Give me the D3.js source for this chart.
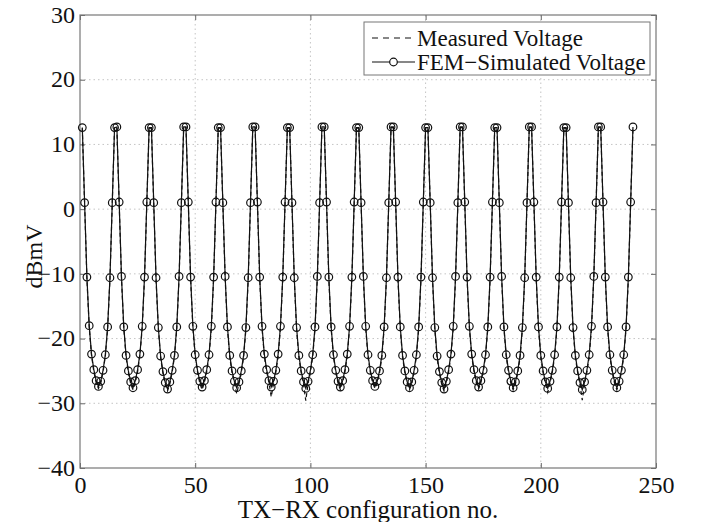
<!DOCTYPE html>
<html>
<head>
<meta charset="utf-8">
<script src="https://cdn.jsdelivr.net/npm/d3@7"></script>
<style>
  body { margin: 0; background: #fff; }
  svg text { font-family: "Liberation Serif", "DejaVu Serif", serif; fill: #111; }
</style>
</head>
<body>
<div id="chart"></div>
<script>
// x ticks / y ticks
var xTicks = [0, 50, 100, 150, 200, 250];
var yTicks = [-40, -30, -20, -10, 0, 10, 20, 30];

// 16 TX blocks of 15 RX each (configurations 1..240)
var simulatedBlocks = [
  [12.6, 1.0, -10.5, -18.0, -22.4, -24.8, -26.5, -27.4, -26.6, -24.9, -22.5, -18.2, -10.6, 1.0, 12.6],
  [12.7, 1.1, -10.4, -18.2, -22.6, -25.0, -26.7, -27.6, -26.5, -24.8, -22.4, -18.1, -10.5, 1.1, 12.6],
  [12.6, 1.0, -10.6, -18.3, -22.7, -25.1, -26.8, -27.8, -26.7, -24.9, -22.6, -18.2, -10.4, 1.0, 12.7],
  [12.7, 1.1, -10.5, -18.1, -22.5, -24.9, -26.6, -27.5, -26.5, -24.8, -22.5, -18.1, -10.5, 1.1, 12.6],
  [12.6, 1.0, -10.4, -18.2, -22.6, -25.0, -26.6, -27.6, -26.7, -25.0, -22.6, -18.3, -10.6, 1.0, 12.7],
  [12.7, 1.1, -10.5, -18.1, -22.4, -24.8, -26.5, -27.5, -26.6, -24.9, -22.4, -18.1, -10.5, 1.1, 12.6],
  [12.6, 1.0, -10.6, -18.3, -22.6, -25.0, -26.7, -27.7, -26.6, -24.9, -22.5, -18.2, -10.4, 1.0, 12.7],
  [12.7, 1.1, -10.5, -18.2, -22.5, -24.9, -26.6, -27.5, -26.5, -24.8, -22.4, -18.1, -10.5, 1.1, 12.6],
  [12.6, 1.0, -10.4, -18.1, -22.5, -24.9, -26.5, -27.4, -26.6, -25.0, -22.6, -18.2, -10.6, 1.0, 12.7],
  [12.7, 1.1, -10.5, -18.2, -22.6, -25.0, -26.7, -27.6, -26.7, -24.9, -22.5, -18.2, -10.5, 1.1, 12.6],
  [12.6, 1.0, -10.6, -18.3, -22.7, -25.1, -26.8, -27.8, -26.6, -24.8, -22.4, -18.1, -10.4, 1.0, 12.7],
  [12.7, 1.1, -10.5, -18.1, -22.4, -24.8, -26.5, -27.5, -26.5, -24.9, -22.5, -18.2, -10.5, 1.1, 12.6],
  [12.6, 1.0, -10.4, -18.2, -22.5, -24.9, -26.6, -27.6, -26.7, -25.0, -22.6, -18.3, -10.6, 1.0, 12.7],
  [12.7, 1.1, -10.5, -18.2, -22.6, -25.0, -26.7, -27.7, -26.6, -24.9, -22.5, -18.2, -10.5, 1.1, 12.6],
  [12.6, 1.0, -10.6, -18.3, -22.6, -25.0, -26.8, -27.9, -26.7, -24.9, -22.5, -18.1, -10.4, 1.0, 12.7],
  [12.7, 1.1, -10.5, -18.2, -22.5, -24.9, -26.6, -27.6, -26.6, -24.9, -22.5, -18.2, -10.5, 1.1, 12.7]
];

var measuredBlocks = [
  [12.5, 0.8, -10.8, -18.3, -22.6, -25.1, -26.8, -27.7, -26.9, -25.2, -22.7, -18.4, -10.8, 0.9, 12.5],
  [12.6, 0.9, -10.7, -18.4, -22.9, -25.3, -27.0, -27.9, -26.8, -25.1, -22.6, -18.4, -10.7, 0.9, 12.5],
  [12.5, 0.8, -10.9, -18.5, -23.0, -25.4, -27.1, -28.1, -27.0, -25.2, -22.8, -18.5, -10.6, 0.8, 12.6],
  [12.6, 0.9, -10.8, -18.4, -22.8, -25.2, -26.9, -27.9, -26.8, -25.1, -22.8, -18.4, -10.8, 0.9, 12.5],
  [12.5, 0.8, -10.7, -18.5, -22.9, -25.3, -26.9, -28.5, -27.0, -25.3, -22.9, -18.6, -10.9, 0.8, 12.6],
  [12.6, 0.9, -10.8, -18.4, -22.7, -25.1, -26.8, -29.0, -26.9, -25.2, -22.7, -18.4, -10.8, 0.9, 12.5],
  [12.5, 0.8, -10.9, -18.6, -22.9, -25.3, -27.0, -29.6, -26.9, -25.2, -22.8, -18.5, -10.7, 0.8, 12.6],
  [12.6, 0.9, -10.8, -18.5, -22.8, -25.2, -26.9, -27.9, -26.8, -25.1, -22.7, -18.4, -10.8, 0.9, 12.5],
  [12.5, 0.8, -10.7, -18.4, -22.8, -25.2, -26.8, -27.7, -26.9, -25.3, -22.9, -18.5, -10.9, 0.8, 12.6],
  [12.6, 0.9, -10.8, -18.5, -22.9, -25.3, -27.0, -27.9, -27.0, -25.2, -22.8, -18.5, -10.8, 0.9, 12.5],
  [12.5, 0.8, -10.9, -18.6, -23.0, -25.4, -27.1, -28.1, -26.9, -25.1, -22.7, -18.4, -10.7, 0.8, 12.6],
  [12.6, 0.9, -10.8, -18.4, -22.7, -25.1, -26.8, -27.8, -26.8, -25.2, -22.8, -18.5, -10.8, 0.9, 12.5],
  [12.5, 0.8, -10.7, -18.5, -22.8, -25.2, -26.9, -27.9, -27.0, -25.3, -22.9, -18.6, -10.9, 0.8, 12.6],
  [12.6, 0.9, -10.8, -18.5, -22.9, -25.3, -27.0, -28.3, -26.9, -25.2, -22.8, -18.5, -10.8, 0.9, 12.5],
  [12.5, 0.8, -10.9, -18.6, -22.9, -25.3, -27.1, -29.5, -27.0, -25.2, -22.8, -18.4, -10.7, 0.8, 12.6],
  [12.6, 0.9, -10.8, -18.5, -22.8, -25.2, -26.9, -27.9, -26.9, -25.2, -22.8, -18.5, -10.8, 0.9, 12.6]
];

var simulated = simulatedBlocks.flat();
var measured = measuredBlocks.flat();
var configNo = d3.range(1, simulated.length + 1);

var svgWidth = 702;
var svgHeight = 522;
var margin = { top: 15, right: 46, bottom: 54, left: 80 };
var width = svgWidth - margin.left - margin.right;
var height = svgHeight - margin.top - margin.bottom;

var svg = d3.select("#chart").append("svg")
    .attr("width", svgWidth)
    .attr("height", svgHeight);

var chartGroup = svg.append("g")
    .attr("transform", `translate(${margin.left}, ${margin.top})`);

var xScale = d3.scaleLinear().domain([0, 250]).range([0, width]);
var yScale = d3.scaleLinear().domain([-40, 30]).range([height, 0]);

// grid
chartGroup.append("g").selectAll("line")
    .data(xTicks.slice(1, -1))
    .enter().append("line")
    .attr("x1", d => xScale(d)).attr("x2", d => xScale(d))
    .attr("y1", 0).attr("y2", height)
    .attr("stroke", "#c4c4c4").attr("stroke-width", 1)
    .attr("stroke-dasharray", "1.5,3");

chartGroup.append("g").selectAll("line")
    .data(yTicks.slice(1, -1))
    .enter().append("line")
    .attr("y1", d => yScale(d)).attr("y2", d => yScale(d))
    .attr("x1", 0).attr("x2", width)
    .attr("stroke", "#c4c4c4").attr("stroke-width", 1)
    .attr("stroke-dasharray", "1.5,3");

// axes (MATLAB style, ticks inward on all four sides)
var xAxis = chartGroup.append("g")
    .attr("transform", `translate(0, ${height})`)
    .call(d3.axisBottom(xScale).tickValues(xTicks).tickSizeInner(-5).tickSizeOuter(0).tickPadding(6));
var yAxis = chartGroup.append("g")
    .call(d3.axisLeft(yScale).tickValues(yTicks).tickSizeInner(-5).tickSizeOuter(0).tickPadding(5));
chartGroup.append("g")
    .call(d3.axisTop(xScale).tickValues(xTicks).tickSizeInner(-5).tickSizeOuter(0).tickFormat(""));
chartGroup.append("g")
    .attr("transform", `translate(${width}, 0)`)
    .call(d3.axisRight(yScale).tickValues(yTicks).tickSizeInner(-5).tickSizeOuter(0).tickFormat(""));

chartGroup.selectAll(".domain").remove();
chartGroup.selectAll(".tick line").attr("stroke", "#666");
chartGroup.selectAll(".tick text")
    .style("font-size", "24px")
    .style("font-family", "Liberation Serif, serif")
    .attr("fill", "#111");
xAxis.selectAll(".tick text").attr("dy", "0.78em");
yAxis.selectAll(".tick text").attr("dy", "0.3em");

chartGroup.append("rect")
    .attr("width", width).attr("height", height)
    .attr("fill", "none").attr("stroke", "#777").attr("stroke-width", 1.2);

// lines
var line = d3.line()
    .x((d, i) => xScale(configNo[i]))
    .y(d => yScale(d));

chartGroup.append("path")
    .datum(simulated)
    .attr("d", line)
    .attr("fill", "none")
    .attr("stroke", "#111")
    .attr("stroke-width", 1.2);

chartGroup.append("path")
    .datum(measured)
    .attr("d", line)
    .attr("fill", "none")
    .attr("stroke", "#111")
    .attr("stroke-width", 1.2)
    .attr("stroke-dasharray", "4,3");

chartGroup.selectAll("circle.sim")
    .data(simulated)
    .enter().append("circle")
    .attr("class", "sim")
    .attr("cx", (d, i) => xScale(configNo[i]))
    .attr("cy", d => yScale(d))
    .attr("r", 3.8)
    .attr("fill", "none")
    .attr("stroke", "#111")
    .attr("stroke-width", 1.2);

// axis labels
chartGroup.append("text")
    .attr("transform", "rotate(-90)")
    .attr("x", -height / 2 - 15)
    .attr("y", -38)
    .attr("text-anchor", "middle")
    .style("font-size", "24px")
    .text("dBmV");

chartGroup.append("text")
    .attr("x", width / 2)
    .attr("y", height + 50)
    .attr("text-anchor", "middle")
    .style("font-size", "25px")
    .text("TX\u2212RX configuration no.");

// legend
var legend = chartGroup.append("g")
    .attr("transform", `translate(${364 - margin.left}, ${22 - margin.top})`);

legend.append("rect")
    .attr("width", 286).attr("height", 53)
    .attr("fill", "#fff").attr("stroke", "#777").attr("stroke-width", 1);

legend.append("line")
    .attr("x1", 8).attr("x2", 51).attr("y1", 16).attr("y2", 16)
    .attr("stroke", "#111").attr("stroke-width", 1.2)
    .attr("stroke-dasharray", "6,5");
legend.append("text")
    .attr("x", 53).attr("y", 16).attr("dy", "0.35em")
    .style("font-size", "23px")
    .text("Measured Voltage");

legend.append("line")
    .attr("x1", 8).attr("x2", 51).attr("y1", 40).attr("y2", 40)
    .attr("stroke", "#111").attr("stroke-width", 1.2);
legend.append("circle")
    .attr("cx", 29.5).attr("cy", 40).attr("r", 3.8)
    .attr("fill", "#fff").attr("stroke", "#111").attr("stroke-width", 1.2);
legend.append("text")
    .attr("x", 53).attr("y", 40).attr("dy", "0.35em")
    .style("font-size", "23px")
    .text("FEM\u2212Simulated Voltage");
</script>
</body>
</html>
